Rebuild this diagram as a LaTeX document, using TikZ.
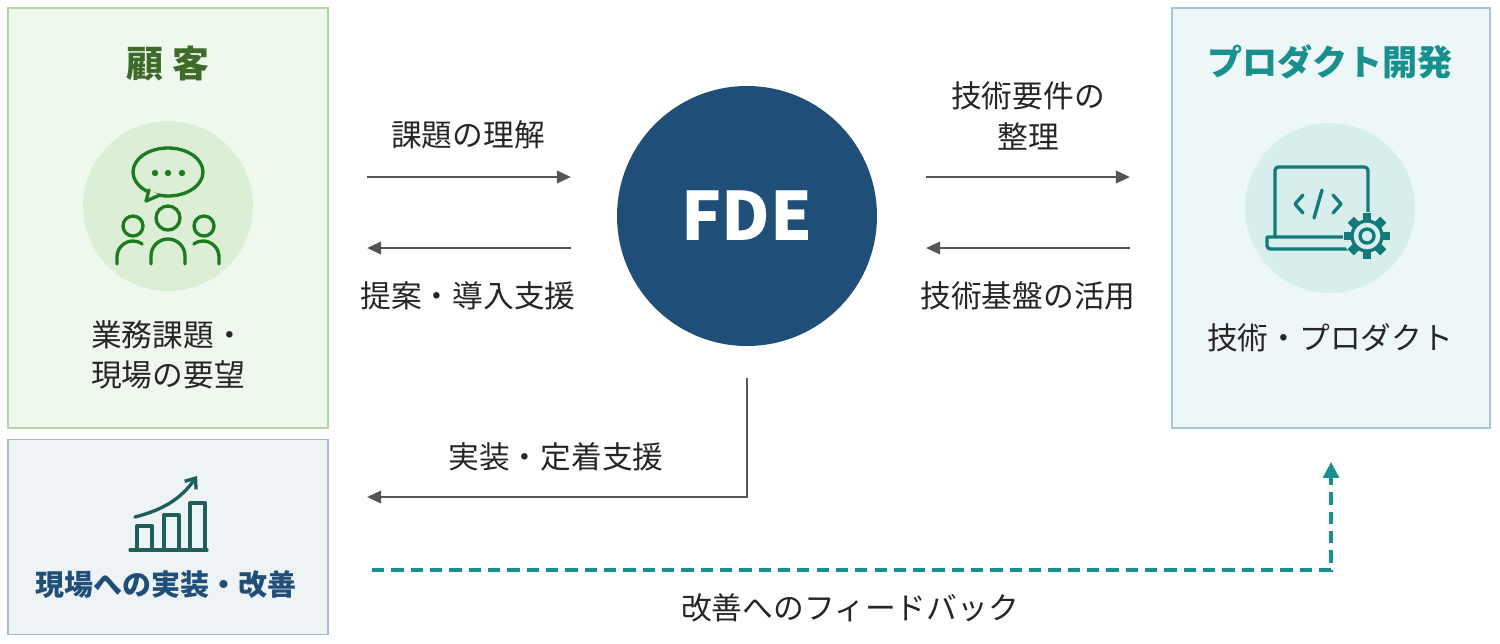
\documentclass[tikz,border=0pt]{standalone}
\usepackage{fontspec}
\setmainfont{Noto Sans CJK JP}
\usetikzlibrary{arrows.meta}
\definecolor{navy}{HTML}{1F4E79}
\definecolor{gline}{HTML}{555555}
\definecolor{teal}{HTML}{17908E}
\definecolor{dgreen}{HTML}{1E7A1E}
\definecolor{tgreen}{HTML}{3E6B2A}
\definecolor{dteal}{HTML}{1F5F5A}
\definecolor{custbg}{RGB}{239,248,237}
\definecolor{custbd}{RGB}{178,214,168}
\definecolor{implbg}{RGB}{238,243,245}
\definecolor{implbd}{RGB}{169,185,204}
\definecolor{prodbg}{RGB}{238,247,247}
\definecolor{prodbd}{RGB}{166,198,224}
\definecolor{gcirc}{RGB}{220,239,214}
\definecolor{tcirc}{RGB}{216,238,236}
\begin{document}
\begin{tikzpicture}[x=0.02cm,y=-0.02cm,
  lbl/.style={font=\fontsize{17.5}{23}\selectfont,text=black!85,align=center},
  flow/.style={draw=gline,line width=1.5pt,-{Triangle[length=8pt,width=7pt]}},
  ic/.style={line width=1.9pt,line cap=round,line join=round}]
\useasboundingbox (0,0) rectangle (1500,643);
\node[draw=custbd,fill=custbg,line width=0.8pt,minimum width=320*0.02cm,minimum height=420*0.02cm] (cust) at (168,218) {};
\node[draw=implbd,fill=implbg,line width=0.8pt,minimum width=320*0.02cm,minimum height=195*0.02cm] (impl) at (168,537) {};
\node[draw=prodbd,fill=prodbg,line width=0.8pt,minimum width=318*0.02cm,minimum height=420*0.02cm] (prod) at (1331,218) {};
\node[circle,fill=navy,minimum size=260*0.02cm,text=white,font=\fontsize{38}{42}\selectfont\bfseries] (fde) at (747,216) {FDE};
% titles
\node[text=tgreen,font=\fontsize{21}{25}\selectfont\bfseries] (t1) at (168,64) {顧 客};
\node[text=teal,font=\fontsize{20}{25}\selectfont\bfseries] (t2) at (1330,62) {プロダクト開発};
\node[lbl] (d1) at (168,355) {業務課題・\\現場の要望};
\node[lbl] (d2) at (1330,338) {技術・プロダクト};
\node[text=navy,font=\fontsize{16.5}{20}\selectfont\bfseries] (d3) at (166,585) {現場への実装・改善};
% icon circles
\fill[gcirc] (168,206) circle [radius=85];
\fill[tcirc] (1330,208) circle [radius=85];
% people icon
\begin{scope}[draw=dgreen,ic]
\draw (168,172) ellipse [x radius=35,y radius=24];
\fill[dgreen] (155,173) circle[radius=3.2] (168,173) circle[radius=3.2] (182,173) circle[radius=3.2];
\draw[fill=gcirc] (149,190) -- (146,201) -- (160,195);
\draw (168,218) circle[radius=12];
\draw (133,226) circle[radius=10];
\draw (204,226) circle[radius=10];
\draw (151,264) -- (151,256) arc[start angle=180,end angle=360,radius=17] -- (185,264);
\draw (117,264) -- (117,257) arc[start angle=180,end angle=305,radius=16];
\draw (219,264) -- (219,257) arc[start angle=360,end angle=235,radius=16];
\end{scope}
% laptop icon
\begin{scope}[draw=teal!85!black,ic]
\draw[rounded corners=2pt] (1275,236) -- (1275,167) -- (1368,167) -- (1368,222);
\draw[rounded corners=2pt] (1267,237) -- (1350,237) (1267,237) -- (1267,249) -- (1350,249);
\draw (1303,195) -- (1295,204) -- (1303,213);
\draw (1333,195) -- (1341,204) -- (1333,213);
\draw (1322,190) -- (1314,218);
\fill[tcirc] (1367,236) circle[radius=24];
\foreach \a in {0,45,...,315} \draw[line width=5pt,line cap=butt] (1367,236) ++(\a:15) -- ++(\a:8);
\draw[fill=tcirc] (1367,236) circle[radius=15];
\draw (1367,236) circle[radius=7];
\end{scope}
% chart icon
\begin{scope}[draw=dteal,ic]
\draw (130,550) -- (207,550);
\draw (137,550) -- (137,526) -- (152,526) -- (152,550);
\draw (164,550) -- (164,515) -- (179,515) -- (179,550);
\draw (190,550) -- (190,503) -- (205,503) -- (205,550);
\draw[-{Straight Barb[length=5pt,width=8pt]}] (135,517) .. controls (162,510) and (180,500) .. (197,476);
\end{scope}
% arrows
\coordinate (a1s) at (367,177); \coordinate (a1e) at (571,177);
\coordinate (a2s) at (571,248); \coordinate (a2e) at (367,248);
\coordinate (a3s) at (926,177); \coordinate (a3e) at (1130,177);
\coordinate (a4s) at (1130,248); \coordinate (a4e) at (926,248);
\draw[flow] (a1s) -- (a1e);
\draw[flow] (a2s) -- (a2e);
\draw[flow] (a3s) -- (a3e);
\draw[flow] (a4s) -- (a4e);
\coordinate (b1) at (747,378); \coordinate (b2) at (747,497); \coordinate (b3) at (367,497);
\draw[flow] (b1) -- (b2) -- (b3);
\coordinate (c1) at (372,570); \coordinate (c2) at (1331,570); \coordinate (c3) at (1331,462);
\draw[draw=teal,line width=1.8pt,dash pattern=on 7pt off 4pt,-{Triangle[length=9pt,width=9pt]}] (c1) -- (c2) -- (c3);
% labels
\node[lbl] (l1) at (468,135) {課題の理解};
\node[lbl] (l2) at (468,296) {提案・導入支援};
\node[lbl] (l3) at (1028,116) {技術要件の\\整理};
\node[lbl] (l4) at (1028,296) {技術基盤の活用};
\node[lbl] (l5) at (556,457) {実装・定着支援};
\node[lbl] (l6) at (850,608) {改善へのフィードバック};
\end{tikzpicture}
\end{document}
